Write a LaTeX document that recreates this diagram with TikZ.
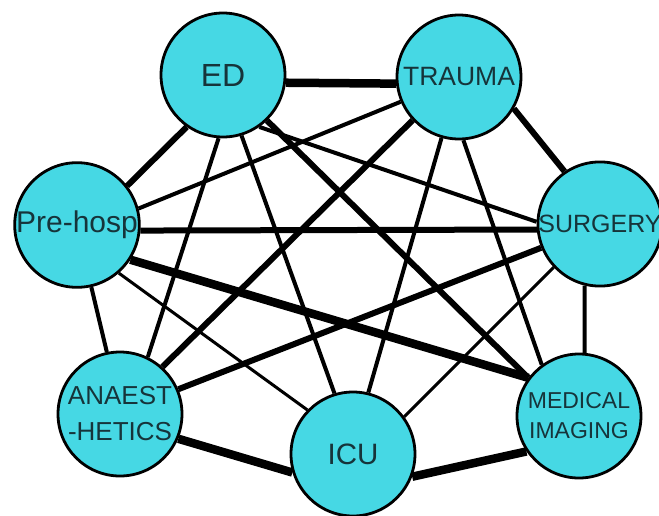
\documentclass[tikz,border=0pt]{standalone}
\usepackage{fontspec}
\setmainfont{Liberation Sans}
\usetikzlibrary{backgrounds}
\definecolor{deptfill}{RGB}{70,216,228}
\definecolor{depttext}{RGB}{22,52,58}
\tikzset{
    dept/.style = {circle, draw, fill = deptfill, text = depttext, line width = 2.8pt, minimum size = 124pt, inner sep = 0pt, align = center},
    weaklink/.style = {line width = 3pt},
    link/.style = {line width = 4pt},
    stronglink/.style = {line width = 6pt},
    heavylink/.style = {line width = 8.5pt}
}
\begin{document}
\begin{tikzpicture}
        [
            x = 1pt, y = -1pt
        ]
        \useasboundingbox (0,0) rectangle (659,515);
        \node[dept, font = \fontsize{32}{36}\selectfont]   (ed)      at (223,75)  {ED};
        \node[dept, font = \fontsize{26.5}{32}\selectfont] (trauma)  at (459,77)  {TRAUMA};
        \node[dept, font = \fontsize{30}{36}\selectfont]   (prehosp) at (77,225)  {Pre-hosp};
        \node[dept, font = \fontsize{25}{30}\selectfont]   (surgery) at (600,224) {SURGERY};
        \node[dept, font = \fontsize{26}{36}\selectfont]   (anaest)  at (120,414) {ANAEST\\-HETICS};
        \node[dept, font = \fontsize{29.5}{34}\selectfont] (icu)     at (353,454) {ICU};
        \node[dept, font = \fontsize{23}{30}\selectfont]   (imaging) at (579,416) {MEDICAL\\IMAGING};
        % links
        \begin{scope}[on background layer]
            \draw[heavylink]  (ed.-7)       -- (trauma.186);
            \draw[stronglink] (ed.235)      -- (prehosp.38);
            \draw[link]       (ed.266)      -- (anaest.64);
            \draw[link]       (ed.287)      -- (icu.107);
            \draw[stronglink] (ed.314)      -- (imaging.143);
            \draw[link]       (ed.305)      -- (surgery.178);
            \draw[link]       (trauma.203)  -- (prehosp.15);
            \draw[stronglink] (trauma.223)  -- (anaest.48);
            \draw[link]       (trauma.254)  -- (icu.76);
            \draw[link]       (trauma.274)  -- (imaging.126);
            \draw[stronglink] (trauma.330)  -- (surgery.124);
            \draw[stronglink] (prehosp.-5)  -- (surgery.185);
            \draw[heavylink]  (prehosp.-33) -- (imaging.143);
            \draw[weaklink]   (prehosp.-49) -- (icu.136);
            \draw[link]       (prehosp.-77) -- (anaest.102);
            \draw[stronglink] (surgery.202) -- (anaest.23);
            \draw[weaklink]   (surgery.223) -- (icu.36);
            \draw[link]       (surgery.256) -- (imaging.85);
            \draw[heavylink]  (anaest.-23)  -- (icu.197);
            \draw[heavylink]  (icu.-21)     -- (imaging.214);
        \end{scope}
    \end{tikzpicture}
\end{document}
